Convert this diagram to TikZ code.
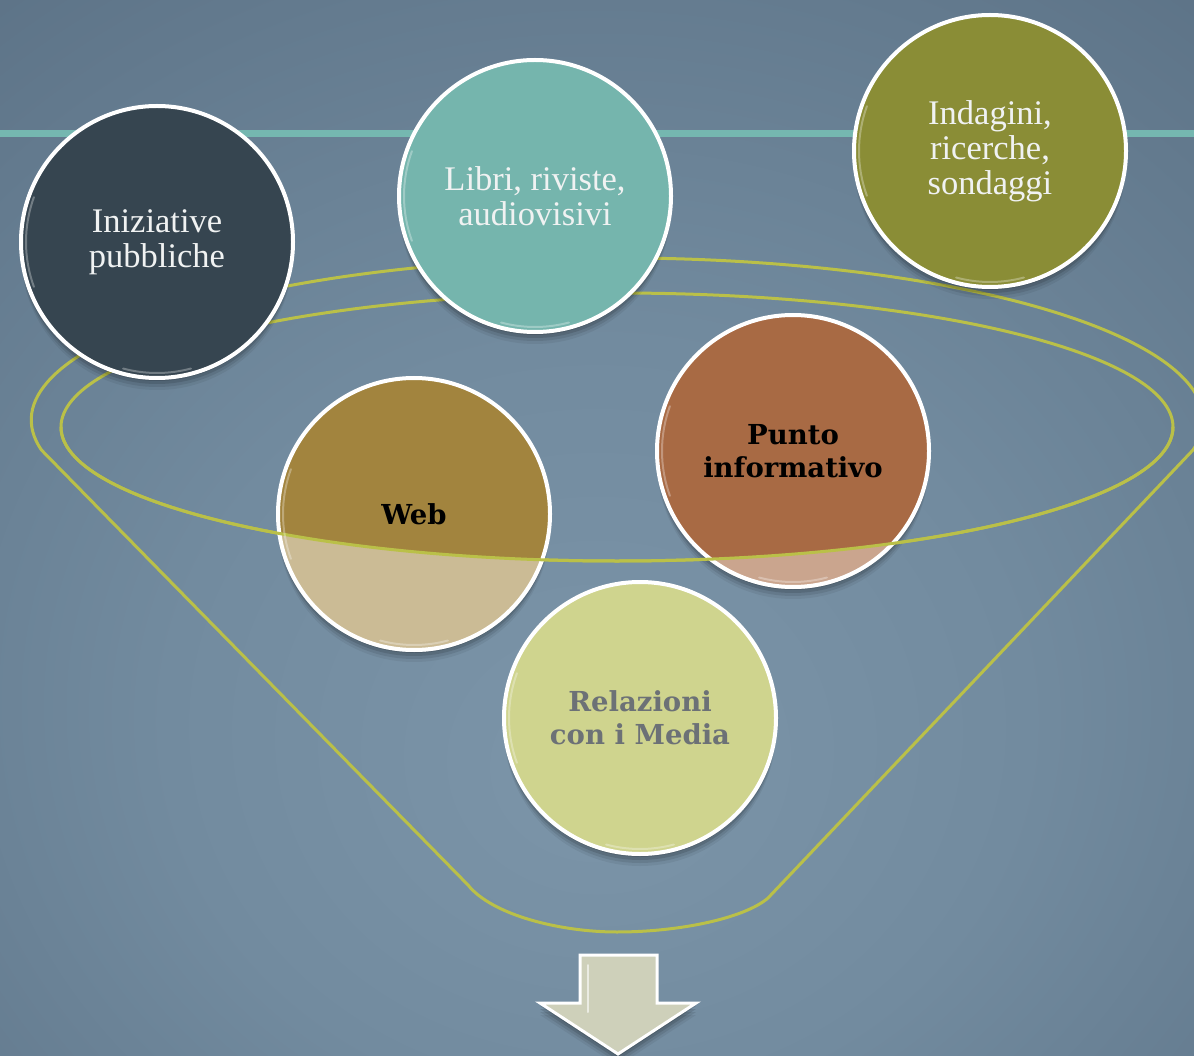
\documentclass[tikz,border=0pt]{standalone}
\usepackage{fontspec}
\setmainfont{Liberation Serif}
\newfontfamily\boldserif{DejaVu Serif}
\usetikzlibrary{shadows}
\definecolor{bgA}{RGB}{124,149,169}
\definecolor{bgB}{RGB}{114,139,159}
\definecolor{bgC}{RGB}{84,105,125}
\definecolor{bgD}{RGB}{54,71,90}
\definecolor{tealc}{RGB}{117,183,176}
\definecolor{funnelc}{RGB}{186,192,72}
\definecolor{inic}{RGB}{54,69,80}
\definecolor{libc}{RGB}{117,181,173}
\definecolor{indc}{RGB}{138,141,54}
\definecolor{webc}{RGB}{162,132,62}
\definecolor{punc}{RGB}{168,106,68}
\definecolor{relc}{RGB}{207,212,142}
\definecolor{reltext}{RGB}{108,113,118}
\definecolor{arrowc}{RGB}{206,208,186}
\definecolor{textw}{RGB}{240,242,242}
\pgfdeclareradialshading{bgshade}{\pgfpoint{0bp}{-12bp}}{color(0bp)=(bgA); color(18bp)=(bgB); color(50bp)=(bgC); color(78bp)=(bgD)}
\begin{document}
\begin{tikzpicture}[x=1pt,y=-1pt,
  softshadow/.style={
    drop shadow={shadow xshift=0pt, shadow yshift=-12pt, opacity=.06, fill=black},
    drop shadow={shadow xshift=0pt, shadow yshift=-9pt, opacity=.09, fill=black},
    drop shadow={shadow xshift=0pt, shadow yshift=-6pt, opacity=.12, fill=black},
    drop shadow={shadow xshift=0pt, shadow yshift=-3pt, opacity=.12, fill=black}},
  bubble/.style={circle, draw=white, line width=4pt, minimum size=272pt, inner sep=0pt,
    align=center, font=\fontsize{34.5}{35}\selectfont, text=textw, softshadow},
  boldbubble/.style={bubble, font=\boldserif\bfseries\fontsize{27.5}{33}\selectfont, text=black},
  funnel/.style={draw=funnelc, line width=3pt},
  glint/.style={white, opacity=.3, line width=2pt, line cap=round}]
\useasboundingbox (0,0) rectangle (1194,1056);
% background
\shade[shading=bgshade] (0,0) rectangle (1194,1056);
% teal rule
\fill[tealc] (0,130) rectangle (1194,137);
% funnel outline
\path[funnel] (1193,450) arc[start angle=10.7, end angle=-190.7, x radius=586, y radius=162]
  -- (468,885) .. controls (492,915) and (560,932) .. (617,932)
  .. controls (680,932) and (745,918) .. (768,898) -- cycle;
\path[funnel] (617,427) ellipse [x radius=556, y radius=134];
% circles
\node[bubble, fill=inic] (ini) at (157,242) {Iniziative\\pubbliche};
\node[bubble, fill=libc] (lib) at (535,196) {Libri, riviste,\\audiovisivi};
\node[bubble, fill=indc] (ind) at (990,151) {Indagini,\\ricerche,\\sondaggi};
\node[boldbubble, fill=webc] (web) at (414,514) {Web};
\node[boldbubble, fill=punc] (pun) at (793,451) {Punto\\informativo};
\node[boldbubble, fill=relc, text=reltext] (rel) at (640,718) {Relazioni\\con i Media};
% washed lower parts below the funnel rim
\begin{scope}
  \clip (web.center) circle (138);
  \fill[white, fill opacity=.45, even odd rule] (0,0) rectangle (1194,1056) (617,427) ellipse [x radius=556, y radius=134];
\end{scope}
\begin{scope}
  \clip (pun.center) circle (138);
  \fill[white, fill opacity=.4, even odd rule] (0,0) rectangle (1194,1056) (617,427) ellipse [x radius=556, y radius=134];
\end{scope}
\path[funnel] (1173,427) arc[start angle=0, end angle=180, x radius=556, y radius=134];
% glints
\foreach \n in {ini,lib,ind,web,pun,rel}{
  \draw[glint] ([shift={(160:131)}]\n.center) arc[start angle=160, end angle=200, radius=131];
  \draw[glint] ([shift={(75:131)}]\n.center) arc[start angle=75, end angle=105, radius=131];
}
% down arrow
\path[draw=white, line width=3pt, fill=arrowc, line join=miter, softshadow]
  (580,955) -- (657,955) -- (657,1003) -- (696,1003) -- (618,1054) -- (540,1003) -- (580,1003) -- cycle;
\draw[glint, opacity=.6] (588,965) -- (588,1012);
\end{tikzpicture}
\end{document}
